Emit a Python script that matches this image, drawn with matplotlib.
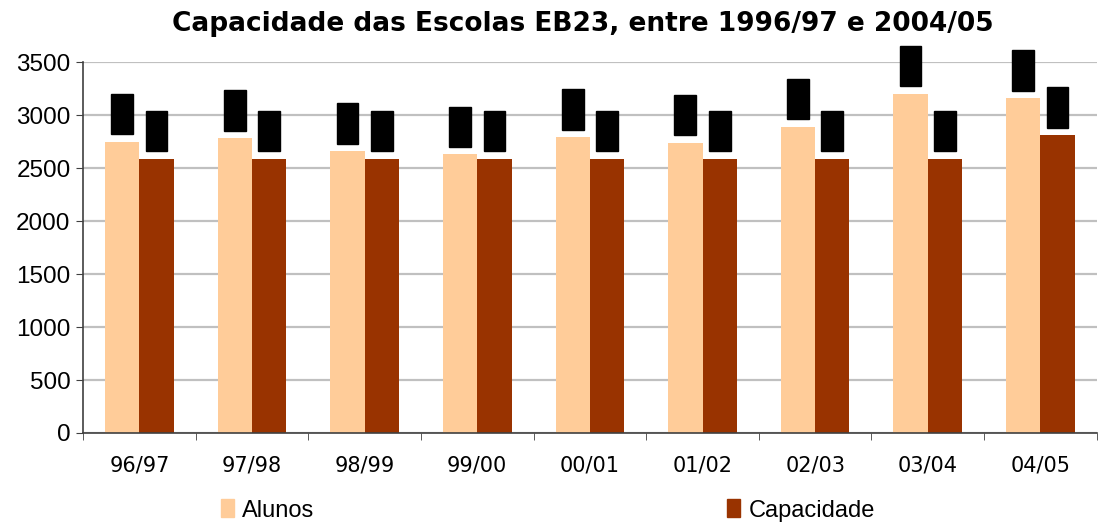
import numpy as np
import matplotlib.pyplot as plt
from matplotlib.patches import Patch

# Dados
anos = ['96/97', '97/98', '98/99', '99/00', '00/01', '01/02', '02/03', '03/04', '04/05']
alunos = [2750, 2780, 2660, 2630, 2790, 2740, 2890, 3200, 3160]
capacidade = [2590, 2590, 2590, 2590, 2590, 2590, 2590, 2590, 2810]

cor_alunos = '#FFCC99'
cor_capacidade = '#993300'

fig = plt.figure(figsize=(11, 5.22), dpi=100)
ax = fig.add_axes([0.0755, 0.1705, 0.9215, 0.7105])

x = np.arange(len(anos))
w = 0.305
b1 = ax.bar(x - w / 2, alunos, w, color=cor_alunos, zorder=2)
b2 = ax.bar(x + w / 2, capacidade, w, color=cor_capacidade, zorder=2)

# rótulos de dados (aparecem como caixas pretas no original)
for barras in (b1, b2):
    for r in barras:
        v = r.get_height()
        ax.annotate(f'{v:.0f}', (r.get_x() + r.get_width() / 2, v),
                    xytext=(0, 8.5), textcoords='offset points',
                    ha='center', va='bottom', rotation=90, fontsize=9,
                    color='black',
                    bbox=dict(boxstyle='square,pad=0.35', fc='black', ec='black'),
                    zorder=3)

ax.set_xlim(-0.5, len(anos) - 0.5)
ax.set_ylim(0, 3500)
ax.set_yticks(np.arange(0, 3501, 500))
ax.yaxis.grid(True, color='#c0c0c0', linewidth=1.6, zorder=0)
ax.set_axisbelow(True)

ax.set_xticks(x)
ax.set_xticklabels(anos, fontsize=15, family='DejaVu Sans')
ax.set_xticks(np.arange(-0.5, len(anos)), minor=True)
ax.tick_params(axis='x', which='major', length=0, pad=16)
ax.tick_params(axis='x', which='minor', length=5, color='#404040', direction='out')
ax.tick_params(axis='y', length=5, color='#404040', labelsize=17.5, pad=4)
for t in ax.get_yticklabels():
    t.set_family('Liberation Sans')

for s in ['top', 'right']:
    ax.spines[s].set_visible(False)
ax.spines['left'].set_color('#404040')
ax.spines['bottom'].set_color('#404040')
ax.spines['left'].set_linewidth(1.2)
ax.spines['bottom'].set_linewidth(1.2)

fig.suptitle('Capacidade das Escolas EB23, entre 1996/97 e 2004/05',
             x=0.53, y=0.978, fontsize=19, fontweight='bold', family='DejaVu Sans')

handles = [Patch(color=cor_alunos, label='Alunos'),
           Patch(color=cor_capacidade, label='Capacidade')]
fig.legend(handles=handles, loc='center', bbox_to_anchor=(0.498, 0.022), ncol=2,
           frameon=False, handlelength=0.55, handleheight=0.8,
           handletextpad=0.35, columnspacing=17.5,
           prop={'family': 'Liberation Sans', 'size': 17})

fig.savefig('out.png', dpi=100)
